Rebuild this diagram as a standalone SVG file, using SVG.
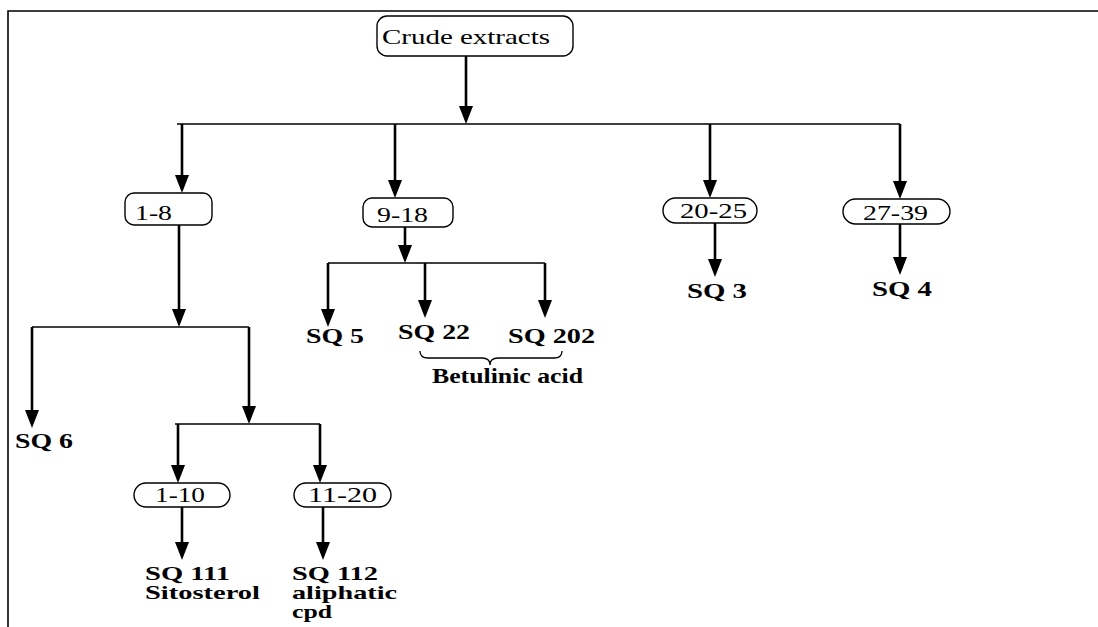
<svg xmlns="http://www.w3.org/2000/svg" width="1098" height="627" viewBox="0 0 1098 627">
<style>
.box{fill:#fff;stroke:#000;stroke-width:1.4}
.lbl{font-family:"Liberation Serif","Times New Roman",serif;font-size:21px;fill:#000}
.res{font-family:"Liberation Serif","Times New Roman",serif;font-size:20px;font-weight:bold;fill:#000}
.res2{font-family:"Liberation Serif","Times New Roman",serif;font-size:19px;font-weight:bold;fill:#000}
.arr{stroke:#000;stroke-width:2.6;fill:none;marker-end:url(#ah)}
.hl{stroke:#000;stroke-width:1.6;fill:none}
.frame{stroke:#000;stroke-width:1.6;fill:none}
</style>
<defs>
<marker id="ah" markerUnits="userSpaceOnUse" markerWidth="18" markerHeight="14" viewBox="0 0 18 14" refX="10" refY="7" orient="auto">
<path d="M0,0 L18,7 L0,14 Z" fill="#000"/>
</marker>
</defs>
<rect width="1098" height="627" fill="#fff"/>
<path class="frame" d="M1098,11 H8 V627"/>

<g id="connectors">
<path class="arr" d="M466,56 V116"/>
<path class="hl" d="M177,124 H900"/>
<path class="arr" d="M182,124 V185"/>
<path class="arr" d="M395,124 V190"/>
<path class="arr" d="M710,124 V190"/>
<path class="arr" d="M900,124 V191"/>
<path class="arr" d="M179,225 V319"/>
<path class="hl" d="M32,327 H249"/>
<path class="arr" d="M32,327 V420"/>
<path class="arr" d="M249,327 V416"/>
<path class="hl" d="M175,424 H320"/>
<path class="arr" d="M178,424 V475"/>
<path class="arr" d="M320,424 V475"/>
<path class="arr" d="M182,507 V552"/>
<path class="arr" d="M323,507 V552"/>
<path class="arr" d="M405,227 V255"/>
<path class="hl" d="M328,263 H545"/>
<path class="arr" d="M328,263 V319"/>
<path class="arr" d="M425,263 V310"/>
<path class="arr" d="M545,263 V310"/>
<path class="arr" d="M715,223 V269"/>
<path class="arr" d="M900,224 V267"/>
<path d="M420,351 Q420,358 428,358 L482,358 Q490,358 490,365 Q490,358 498,358 L554,358 Q562,358 562,351" fill="none" stroke="#000" stroke-width="1.3"/>
</g>

<g id="crude">
<rect class="box" x="377" y="16" width="196" height="40" rx="10"/>
<text class="lbl" x="382" y="44" textLength="168" lengthAdjust="spacingAndGlyphs">Crude extracts</text>
</g>
<g id="f1-8">
<rect class="box" x="125" y="193" width="87" height="32" rx="9"/>
<text class="lbl" x="135" y="220" textLength="37" lengthAdjust="spacingAndGlyphs">1-8</text>
</g>
<g id="f9-18">
<rect class="box" x="363" y="198" width="90" height="29" rx="9"/>
<text class="lbl" x="377" y="222" textLength="51" lengthAdjust="spacingAndGlyphs">9-18</text>
</g>
<g id="f20-25">
<rect class="box" x="663" y="198" width="94" height="25" rx="12.5"/>
<text class="lbl" x="680" y="218" textLength="67" lengthAdjust="spacingAndGlyphs">20-25</text>
</g>
<g id="f27-39">
<rect class="box" x="843" y="199" width="107" height="25" rx="12.5"/>
<text class="lbl" x="863" y="220" textLength="65" lengthAdjust="spacingAndGlyphs">27-39</text>
</g>
<g id="f1-10">
<rect class="box" x="134" y="483" width="96" height="24" rx="12"/>
<text class="lbl" x="155" y="502" textLength="50" lengthAdjust="spacingAndGlyphs">1-10</text>
</g>
<g id="f11-20">
<rect class="box" x="294" y="483" width="97" height="24" rx="12"/>
<text class="lbl" x="308" y="502" textLength="69" lengthAdjust="spacingAndGlyphs">11-20</text>
</g>

<g id="sq6"><text class="res" x="15" y="448" textLength="58" lengthAdjust="spacingAndGlyphs">SQ 6</text></g>
<g id="sq5"><text class="res" x="306" y="343" textLength="58" lengthAdjust="spacingAndGlyphs">SQ 5</text></g>
<g id="sq22"><text class="res" x="398" y="339" textLength="72" lengthAdjust="spacingAndGlyphs">SQ 22</text></g>
<g id="sq202"><text class="res" x="508" y="343" textLength="87" lengthAdjust="spacingAndGlyphs">SQ 202</text></g>
<g id="betulinic"><text class="res" x="432" y="383" textLength="151" lengthAdjust="spacingAndGlyphs">Betulinic acid</text></g>
<g id="sq3"><text class="res" x="687" y="298" textLength="60" lengthAdjust="spacingAndGlyphs">SQ 3</text></g>
<g id="sq4"><text class="res" x="872" y="296" textLength="60" lengthAdjust="spacingAndGlyphs">SQ 4</text></g>
<g id="sq111">
<text class="res2" x="145" y="580" textLength="85" lengthAdjust="spacingAndGlyphs">SQ 111</text>
<text class="res2" x="145" y="599" textLength="115" lengthAdjust="spacingAndGlyphs">Sitosterol</text>
</g>
<g id="sq112">
<text class="res2" x="292" y="580" textLength="86" lengthAdjust="spacingAndGlyphs">SQ 112</text>
<text class="res2" x="292" y="599" textLength="105" lengthAdjust="spacingAndGlyphs">aliphatic</text>
<text class="res2" x="292" y="618" textLength="40" lengthAdjust="spacingAndGlyphs">cpd</text>
</g>
</svg>
